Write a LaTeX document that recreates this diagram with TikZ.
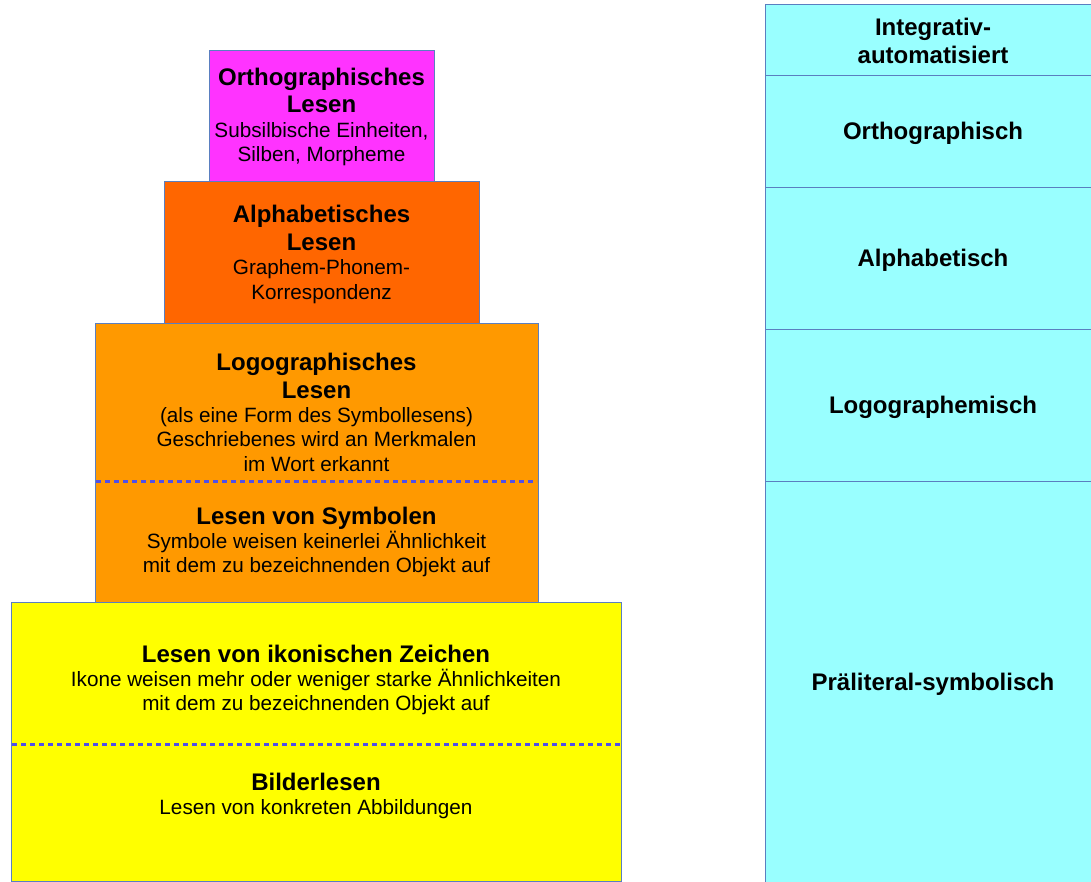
\documentclass[tikz,border=0pt]{standalone}
\usepackage{fontspec}
\setmainfont{Liberation Sans}
\definecolor{ortho}{HTML}{FF33FF}
\definecolor{alpha}{HTML}{FF6600}
\definecolor{logo}{HTML}{FF9900}
\definecolor{ikon}{HTML}{FFFF00}
\definecolor{stage}{HTML}{99FFFF}
\definecolor{edge}{HTML}{5A7FC0}
\definecolor{divline}{HTML}{5050E8}
\begin{document}
\begin{tikzpicture}[x=1pt,y=-1pt,
  box/.style={draw=edge,line width=0.9pt,rectangle,inner sep=0pt,outer sep=0pt,anchor=north west},
  hd/.style={anchor=base,inner sep=0pt,font=\fontsize{24}{27.6}\selectfont\bfseries},
  tx/.style={anchor=base,inner sep=0pt,font=\fontsize{20.7}{24}\selectfont},
  stagebox/.style={box,fill=stage,minimum width=336pt},
  stagelabel/.style={inner sep=0pt,align=center,font=\fontsize{24}{27.6}\selectfont\bfseries},
  divider/.style={draw=divline,line width=3pt,dash pattern=on 5pt off 4pt}]
\useasboundingbox (0,0) rectangle (1091,882);
\clip (0,0) rectangle (1091,882);

% stacked reading stages (pyramid)
\node[box,fill=ortho,minimum width=225pt,minimum height=131pt] (orthbox) at (209,50) {};
\node[box,fill=alpha,minimum width=315pt,minimum height=142pt] (alphbox) at (164,181) {};
\node[box,fill=logo,minimum width=443pt,minimum height=279pt] (logobox) at (95,323) {};
\node[box,fill=ikon,minimum width=610pt,minimum height=279pt] (ikonbox) at (11,602) {};

% dashed separators inside the two lower boxes
\coordinate (d1l) at (96,481);
\coordinate (d1r) at (537,481);
\coordinate (d2l) at (12,744);
\coordinate (d2r) at (620,744);
\draw[divider] (d1l) -- (d1r);
\draw[divider] (d2l) -- (d2r);

% texts of the pyramid
\node[hd] (o1) at (321.5,86) {Orthographisches};
\node[hd] (o2) at (321.5,113) {Lesen};
\node[tx] (o3) at (321.5,138) {Subsilbische Einheiten,};
\node[tx] (o4) at (321.5,162) {Silben, Morpheme};

\node[hd] (a1) at (321.5,223) {Alphabetisches};
\node[hd] (a2) at (321.5,251) {Lesen};
\node[tx] (a3) at (321.5,275) {Graphem-Phonem-};
\node[tx] (a4) at (321.5,299) {Korrespondenz};

\node[hd] (l1) at (316.5,370) {Logographisches};
\node[hd] (l2) at (316.5,398) {Lesen};
\node[tx] (l3) at (316.5,422) {(als eine Form des Symbollesens)};
\node[tx] (l4) at (316.5,446) {Geschriebenes wird an Merkmalen};
\node[tx] (l5) at (316.5,471) {im Wort erkannt};

\node[hd] (s1) at (316.5,524) {Lesen von Symbolen};
\node[tx] (s2) at (316.5,548) {Symbole weisen keinerlei Ähnlichkeit};
\node[tx] (s3) at (316.5,572) {mit dem zu bezeichnenden Objekt auf};

\node[hd] (i1) at (316,662) {Lesen von ikonischen Zeichen};
\node[tx] (i2) at (316,686) {Ikone weisen mehr oder weniger starke Ähnlichkeiten};
\node[tx] (i3) at (316,710) {mit dem zu bezeichnenden Objekt auf};

\node[hd] (b1) at (316,790) {Bilderlesen};
\node[tx] (b2) at (316,814) {Lesen von konkreten Abbildungen};

% column of stage names
\node[stagebox,minimum height=71pt] (st1) at (765,4) {};
\node[stagebox,minimum height=112pt] (st2) at (765,75) {};
\node[stagebox,minimum height=142pt] (st3) at (765,187) {};
\node[stagebox,minimum height=152pt] (st4) at (765,329) {};
\node[stagebox,minimum height=402pt] (st5) at (765,481) {};
\node[stagelabel] (sl1) at ([yshift=-1.5pt]st1.center) {Integrativ-\\automatisiert};
\node[stagelabel] (sl2) at ([yshift=-2pt]st2.center) {Orthographisch};
\node[stagelabel] (sl3) at ([yshift=-2pt]st3.center) {Alphabetisch};
\node[stagelabel] (sl4) at ([yshift=-2pt]st4.center) {Logographemisch};
\node[stagelabel] (sl5) at ([yshift=-2pt]st5.center) {Präliteral-symbolisch};
\end{tikzpicture}
\end{document}
